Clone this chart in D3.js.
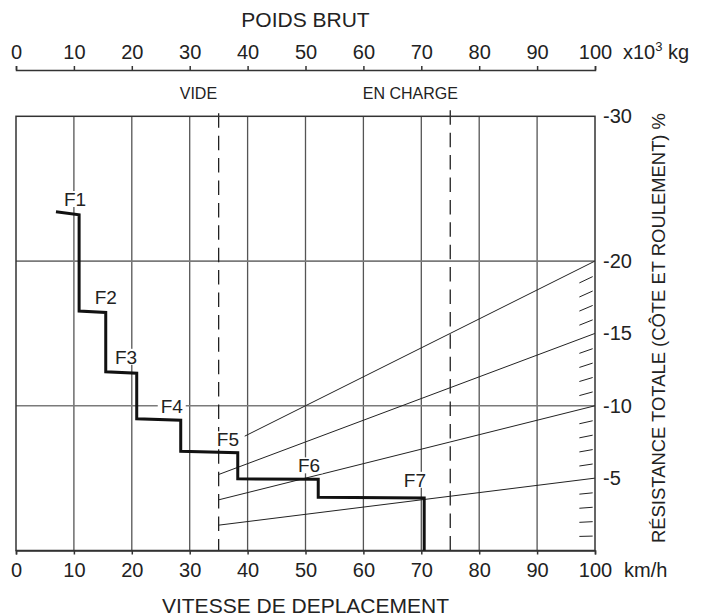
<html>
<meta charset="utf-8" />
<head>
<title>Rimpull</title>
<style>
body { margin: 0; background: #fff; }
svg { display: block; }
svg text {
  font-family: "Liberation Sans", Arial, sans-serif;
  fill: #222;
}
.axis path, .axis line { stroke: #333; stroke-width: 1.5px; }
.axis text { font-size: 20px; fill: #222; }
</style>
<script src="https://d3js.org/d3.v7.min.js" charset="utf-8"></script>
</head>
<body>
<svg class="chart"></svg>

<script>
var chartWidth = 712;
var chartHeight = 616;

/********
 * Data *
 ********/

var speedTicks = [0, 10, 20, 30, 40, 50, 60, 70, 80, 90, 100];
var weightTicks = [0, 10, 20, 30, 40, 50, 60, 70, 80, 90, 100];
var gradeTicks = [5, 10, 15, 20, 30];
var gridGrades = [10, 20];

// rimpull step curve (speed km/h, total resistance %)
var rimSpeed  = [6.9, 10.9, 10.9, 15.5, 15.5, 20.85, 20.85, 28.45, 28.45, 38.3, 38.3, 52.2, 52.2, 70.5, 70.5];
var rimResist = [23.4, 23.2, 16.55, 16.45, 12.35, 12.25, 9.1, 9.0, 6.85, 6.75, 4.95, 4.92, 3.68, 3.63, 0];

// gear labels
var gearNames  = ["F1", "F2", "F3", "F4", "F5", "F6", "F7"];
var gearSpeed  = [10.2, 15.5, 19.0, 26.9, 36.6, 50.6, 68.9];
var gearResist = [23.8, 17.0, 12.9, 9.5, 7.2, 5.4, 4.4];

// grade lines from origin, weight 35 -> 100
var gradeLines = [5, 10, 15, 20];
var gradeStart = [35, 35, 35, 39.5];
var minorGrades = [1, 2, 3, 4, 6, 7, 8, 9, 11, 12, 13, 14, 16, 17, 18, 19];

// empty / loaded weights
var loadWeights = [35, 75];
var loadNames = ["VIDE", "EN CHARGE"];
var loadLabelAt = [31.5, 68.1];

/**********
 * Scales *
 **********/

var x = d3.scaleLinear().domain([0, 100]).range([16, 595]);
var y = d3.scaleLinear().domain([0, 30]).range([550.5, 116.3]);

var svg = d3.select(".chart")
    .attr("width", chartWidth)
    .attr("height", chartHeight);

/********
 * Grid *
 ********/

svg.append("g").selectAll("line")
    .data(speedTicks.slice(1, -1))
  .enter().append("line")
    .attr("x1", function(d){ return x(d); })
    .attr("x2", function(d){ return x(d); })
    .attr("y1", y(30))
    .attr("y2", y(0))
    .attr("stroke", "#555")
    .attr("stroke-width", 1.3);

svg.append("g").selectAll("line")
    .data(gridGrades)
  .enter().append("line")
    .attr("x1", x(0))
    .attr("x2", x(100))
    .attr("y1", function(d){ return y(d); })
    .attr("y2", function(d){ return y(d); })
    .attr("stroke", "#7a7a7a")
    .attr("stroke-width", 1.7);

// dashed weight lines
svg.append("g").selectAll("line")
    .data(loadWeights)
  .enter().append("line")
    .attr("x1", function(d){ return x(d); })
    .attr("x2", function(d){ return x(d); })
    .attr("y1", function(d, i){ return y(30) - (i == 0 ? 3 : 6); })
    .attr("y2", y(0))
    .attr("stroke", "#222")
    .attr("stroke-width", 1.3)
    .attr("stroke-dasharray", "14.5,7.9");

svg.append("g").selectAll("text")
    .data(loadNames)
  .enter().append("text")
    .attr("x", function(d, i){ return x(loadLabelAt[i]); })
    .attr("y", 99)
    .style("font-size", "16px")
    .style("text-anchor", "middle")
    .text(function(d){ return d; });

/***************
 * Grade lines *
 ***************/

svg.append("g").selectAll("line")
    .data(gradeLines)
  .enter().append("line")
    .attr("x1", function(d, i){ return x(gradeStart[i]); })
    .attr("y1", function(d, i){ return y(d * gradeStart[i] / 100); })
    .attr("x2", x(100))
    .attr("y2", function(d){ return y(d); })
    .attr("stroke", "#222")
    .attr("stroke-width", 1);

svg.append("g").selectAll("line")
    .data(minorGrades)
  .enter().append("line")
    .attr("x1", x(97.3))
    .attr("y1", function(d){ return y(d * 0.973); })
    .attr("x2", x(99.6))
    .attr("y2", function(d){ return y(d * 0.996); })
    .attr("stroke", "#222")
    .attr("stroke-width", 1);

/********
 * Axes *
 ********/

// plot frame
svg.append("rect")
    .attr("x", x(0))
    .attr("y", y(30))
    .attr("width", x(100) - x(0))
    .attr("height", y(0) - y(30))
    .attr("fill", "none")
    .attr("stroke", "#333")
    .attr("stroke-width", 1.5);

svg.append("g")
    .attr("class", "axis")
    .attr("transform", "translate(0," + y(0) + ")")
    .call(d3.axisBottom(x).tickValues(speedTicks).tickSize(4).tickSizeOuter(4).tickPadding(8));

var wx = d3.scaleLinear().domain([0, 100]).range([16, 595]);
svg.append("g")
    .attr("class", "axis")
    .attr("transform", "translate(0,70)")
    .call(d3.axisTop(wx).tickValues(weightTicks).tickSize(4).tickSizeOuter(4).tickPadding(7));

var rightAxis = svg.append("g")
    .attr("class", "axis")
    .attr("transform", "translate(" + x(100) + ",0)")
    .call(d3.axisRight(y).tickValues(gradeTicks).tickSize(0).tickPadding(8)
      .tickFormat(function(d){ return "-" + d; }));
rightAxis.select(".domain").remove();
rightAxis.selectAll("text").style("font-size", "20px");

/**********
 * Titles *
 **********/

svg.append("text")
    .attr("x", (x(0) + x(100)) / 2)
    .attr("y", 27)
    .style("font-size", "21px")
    .style("text-anchor", "middle")
    .text("POIDS BRUT");

svg.append("text")
    .attr("x", (x(0) + x(100)) / 2)
    .attr("y", 613)
    .style("font-size", "21px")
    .style("text-anchor", "middle")
    .text("VITESSE DE DEPLACEMENT");

var unit = svg.append("text")
    .attr("x", 623)
    .attr("y", 59)
    .style("font-size", "20px");
unit.append("tspan").text("x10");
unit.append("tspan").attr("dy", -8).style("font-size", "13px").text("3");
unit.append("tspan").attr("dy", 8).text(" kg");

svg.append("text")
    .attr("x", 624)
    .attr("y", 577)
    .style("font-size", "20px")
    .text("km/h");

svg.append("text")
    .attr("transform", "translate(665,328) rotate(-90)")
    .attr("textLength", 430)
    .attr("lengthAdjust", "spacingAndGlyphs")
    .style("font-size", "19px")
    .style("text-anchor", "middle")
    .text("RÉSISTANCE TOTALE (CÔTE ET ROULEMENT) %");

/****************
 * Rimpull line *
 ****************/

var line = d3.line()
    .x(function(d){ return x(rimSpeed[d]); })
    .y(function(d){ return y(rimResist[d]); });

svg.append("path")
    .attr("d", line(d3.range(rimSpeed.length)))
    .attr("fill", "none")
    .attr("stroke", "#111")
    .attr("stroke-width", 3)
    .attr("stroke-linejoin", "miter");

/***************
 * Gear labels *
 ***************/

var gear = svg.append("g").selectAll("g")
    .data(gearNames)
  .enter().append("g")
    .attr("transform", function(d, i){
      return "translate(" + x(gearSpeed[i]) + "," + y(gearResist[i]) + ")";
    });

gear.append("rect")
    .attr("x", -14)
    .attr("y", -15)
    .attr("width", 28)
    .attr("height", 16)
    .attr("fill", "#fff");

gear.append("text")
    .style("font-size", "19px")
    .style("text-anchor", "middle")
    .text(function(d){ return d; });

</script>
</body>
</html>
